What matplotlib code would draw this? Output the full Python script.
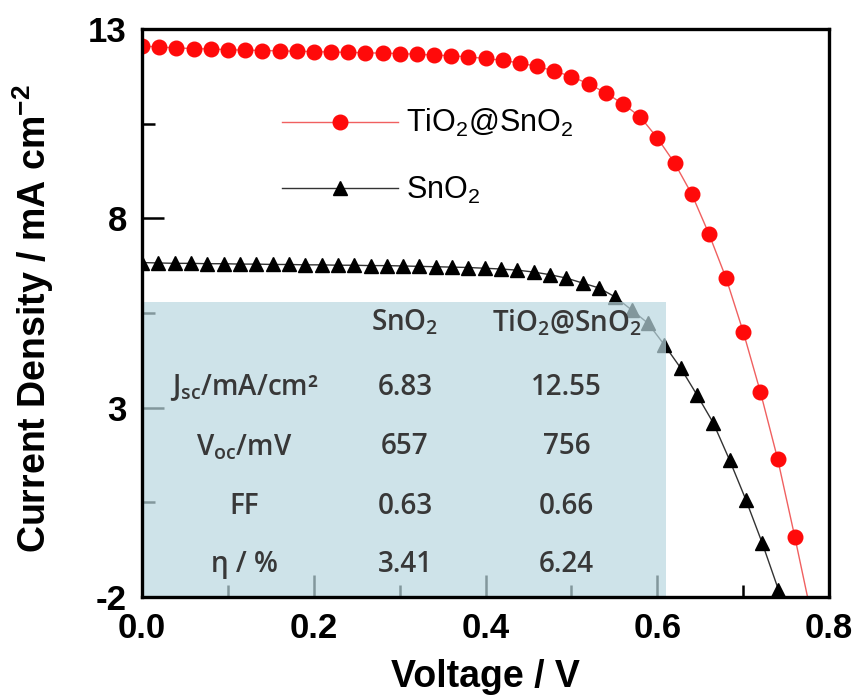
import matplotlib
matplotlib.use('Agg')
import matplotlib.pyplot as plt
from matplotlib.patches import Rectangle
from matplotlib.ticker import MultipleLocator

plt.rcParams['font.family'] = 'Liberation Sans'

# J-V data, TiO2@SnO2 (red) and SnO2 (black)
v_tio2 = [0.00, 0.02, 0.04, 0.06, 0.08, 0.10, 0.12, 0.14, 0.16, 0.18,
          0.20, 0.22, 0.24, 0.26, 0.28, 0.30, 0.32, 0.34, 0.36, 0.38,
          0.40, 0.42, 0.44, 0.46, 0.48, 0.50, 0.52, 0.54, 0.56, 0.58,
          0.60, 0.62, 0.64, 0.66, 0.68, 0.70, 0.72, 0.74, 0.76, 0.78]
j_tio2 = [12.55, 12.52, 12.50, 12.48, 12.47, 12.45, 12.44, 12.43, 12.42, 12.41,
          12.40, 12.39, 12.38, 12.37, 12.36, 12.35, 12.33, 12.31, 12.29, 12.26,
          12.22, 12.17, 12.10, 12.01, 11.89, 11.74, 11.55, 11.31, 11.02, 10.68,
          10.12, 9.46, 8.64, 7.59, 6.42, 5.00, 3.41, 1.65, -0.41, -2.55]

v_sno2 = [0.000, 0.019, 0.038, 0.057, 0.076, 0.095, 0.114, 0.133, 0.152, 0.171,
          0.190, 0.209, 0.228, 0.247, 0.266, 0.285, 0.304, 0.323, 0.342, 0.361,
          0.380, 0.399, 0.418, 0.437, 0.456, 0.475, 0.494, 0.513, 0.532, 0.551,
          0.570, 0.589, 0.608, 0.627, 0.646, 0.665, 0.684, 0.703, 0.722, 0.741]
j_sno2 = [6.83, 6.82, 6.81, 6.81, 6.80, 6.80, 6.79, 6.79, 6.78, 6.78,
          6.77, 6.77, 6.76, 6.76, 6.75, 6.75, 6.74, 6.73, 6.72, 6.71,
          6.70, 6.68, 6.66, 6.63, 6.58, 6.51, 6.42, 6.29, 6.16, 5.92,
          5.58, 5.23, 4.66, 4.05, 3.34, 2.60, 1.62, 0.57, -0.57, -1.81]

# inset table
row_labels = ['J$_\\mathregular{sc}$/mA/cm\u00b2', 'V$_\\mathregular{oc}$/mV', 'FF', '\u03b7 / %']
col_labels = ['SnO$_\\mathregular{2}$', 'TiO$_\\mathregular{2}$@SnO$_\\mathregular{2}$']
sno2_vals = ['6.83', '657', '0.63', '3.41']
tio2_vals = ['12.55', '756', '0.66', '6.24']

fig = plt.figure(figsize=(8.56, 6.99), dpi=100)
ax = fig.add_axes([0.166, 0.146, 0.8026, 0.8126])

ax.plot(v_tio2, j_tio2, color='#f06060', lw=1.0, marker='o', ms=10.5,
        mfc='#ff0a0a', mec='#ff0a0a', label='TiO$_\\mathregular{2}$@SnO$_\\mathregular{2}$', zorder=2)
ax.plot(v_sno2, j_sno2, color='#333333', lw=1.0, marker='^', ms=10,
        mfc='black', mec='black', label='SnO$_\\mathregular{2}$', zorder=2)

ax.set_xlim(0, 0.8)
ax.set_ylim(-2, 13)
ax.xaxis.set_major_locator(MultipleLocator(0.2))
ax.xaxis.set_minor_locator(MultipleLocator(0.1))
ax.set_yticks([-2, 3, 8, 13])
ax.set_yticks([0.5, 5.5, 10.5], minor=True)
ax.tick_params(which='both', direction='in', width=1.8, color='black')
ax.tick_params(which='major', length=16, labelsize=25)
ax.tick_params(axis='x', which='major', pad=11)
ax.tick_params(axis='y', which='major', pad=11)
ax.tick_params(which='minor', length=9)
ax.set_xticklabels(['%.1f' % t for t in ax.get_xticks()], fontweight='bold')
ax.set_yticklabels(['-2', '3', '8', '13'], fontweight='bold')

for sp in ax.spines.values():
    sp.set_linewidth(2.4)
    sp.set_zorder(4)

ax.set_xlabel('Voltage / V', fontsize=27, fontweight='bold')
ax.set_ylabel('Current Density / mA cm$\\mathregular{^{-2}}$', fontsize=27,
              fontweight='bold')
ax.xaxis.set_label_coords(0.5, -0.11)
ax.yaxis.set_label_coords(-0.125, 0.49)

# shaded table panel, semi transparent over curves and ticks
ax.add_patch(Rectangle((0, -2), 0.61, 7.79, facecolor='#bad8e0', alpha=0.7,
                       edgecolor='none', zorder=3))

tfont = dict(family='Open Sans', fontsize=20, fontweight='semibold', color='#383838',
             ha='center', va='center', zorder=5)
col_x = [0.119, 0.306, 0.494]
row_y = [3.52, 1.96, 0.40, -1.15]
ax.text(col_x[1], 5.25, col_labels[0], **tfont)
ax.text(col_x[2], 5.25, col_labels[1], **tfont)
for i in range(4):
    ax.text(col_x[0], row_y[i], row_labels[i], **tfont)
    ax.text(col_x[1], row_y[i], sno2_vals[i], **tfont)
    ax.text(col_x[2], row_y[i], tio2_vals[i], **tfont)

ax.legend(loc='upper left', bbox_to_anchor=(0.204, 0.862), frameon=False,
          fontsize=22, handlelength=3.8, handletextpad=0.25, labelspacing=1.15,
          borderpad=0, borderaxespad=0, numpoints=1)

fig.savefig('out.png', dpi=100)
